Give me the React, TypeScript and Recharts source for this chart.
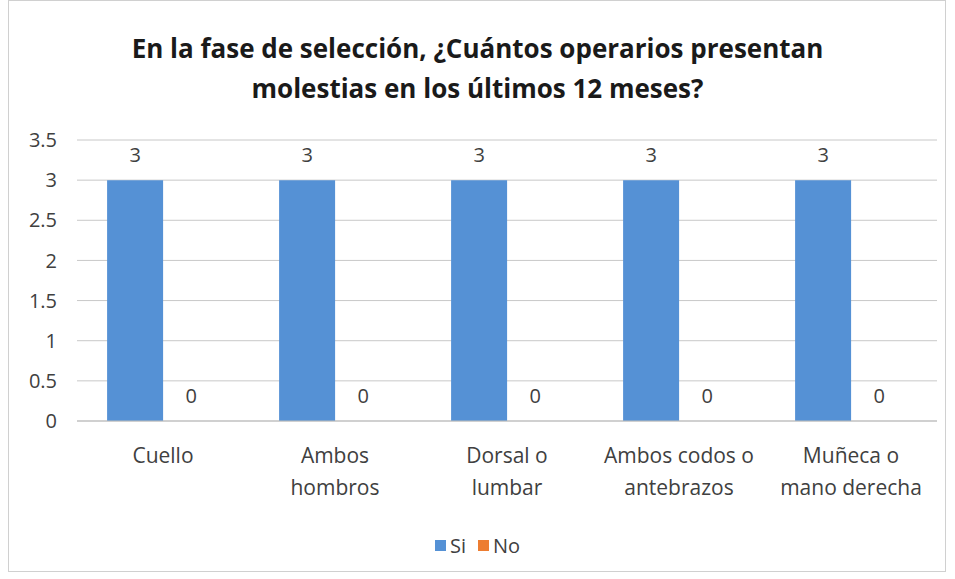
import { Bar, BarChart, CartesianGrid, LabelList, XAxis, YAxis } from 'recharts';

const categories = ['Cuello', 'Ambos\nhombros', 'Dorsal o\nlumbar', 'Ambos codos o\nantebrazos', 'Muñeca o\nmano derecha'];
const siValues = [3, 3, 3, 3, 3];
const noValues = [0, 0, 0, 0, 0];
const yTicks = [0, 0.5, 1, 1.5, 2, 2.5, 3, 3.5];

const data = categories.map((name, i) => ({ name, Si: siValues[i], No: noValues[i] }));

const FONT = '"Open Sans", sans-serif';
const TEXT = '#404040';
const BLUE = '#5591D5';
const ORANGE = '#ED7D31';

function CategoryTick(props: any) {
    const { x, y, payload } = props;
    const lines = String(payload.value).split('\n');
    return (
        <text x={x} y={y} textAnchor="middle" fill={TEXT} fontSize={21} fontFamily={FONT}>
            {lines.map((l: string, i: number) => (
                <tspan key={i} x={x} dy={i === 0 ? 34 : 32}>
                    {l}
                </tspan>
            ))}
        </text>
    );
}

// the zero-height "No" bars are not drawn, so their labels are placed beside the "Si" bar
function BothLabels(props: any) {
    const { x, y, width, height, index, value } = props;
    const base = y + height;
    return (
        <g>
            <text x={x + width / 2} y={y - 18} textAnchor="middle" fill={TEXT} fontSize={20} fontFamily={FONT}>
                {value}
            </text>
            <text x={x + width * 1.5} y={base - 18} textAnchor="middle" fill={TEXT} fontSize={20} fontFamily={FONT}>
                {noValues[index]}
            </text>
        </g>
    );
}

export default function App() {
    return (
        <div style={{ position: 'absolute', left: 0, top: 0, width: 955, height: 579, background: '#fff' }}>
            <div
                style={{
                    position: 'absolute',
                    left: 8,
                    top: 0,
                    width: 936,
                    height: 570,
                    border: '1px solid #d0d0d0',
                }}
            />
            <div
                style={{
                    position: 'absolute',
                    left: 0,
                    top: 28,
                    width: 955,
                    textAlign: 'center',
                    fontFamily: FONT,
                    fontWeight: 'bold',
                    fontSize: 26,
                    lineHeight: '40px',
                    color: '#1a1a1a',
                }}
            >
                En la fase de selección, ¿Cuántos operarios presentan
                <br />
                molestias en los últimos 12 meses?
            </div>
            <div style={{ position: 'absolute', left: 0, top: 0 }}>
                <BarChart
                    width={955}
                    height={579}
                    data={data}
                    margin={{ top: 140, right: 18, bottom: 128, left: 10 }}
                    barCategoryGap="17.5%"
                    barGap={0}
                >
                    <CartesianGrid vertical={false} stroke="#c8c8c8" />
                    <XAxis
                        dataKey="name"
                        height={30}
                        tick={<CategoryTick />}
                        tickLine={false}
                        axisLine={{ stroke: '#bdbdbd' }}
                        interval={0}
                    />
                    <YAxis
                        width={67}
                        domain={[0, 3.5]}
                        ticks={yTicks}
                        tickLine={false}
                        axisLine={false}
                        tick={{ fill: TEXT, fontSize: 20, fontFamily: FONT, dx: -12 }}
                    />
                    <Bar dataKey="Si" fill={BLUE} isAnimationActive={false}>
                        <LabelList dataKey="Si" content={<BothLabels />} />
                    </Bar>
                    <Bar dataKey="No" fill={ORANGE} isAnimationActive={false} />
                </BarChart>
            </div>
            <div
                style={{
                    position: 'absolute',
                    left: 0,
                    top: 532,
                    width: 955,
                    display: 'flex',
                    justifyContent: 'center',
                    alignItems: 'center',
                    gap: 12,
                    fontFamily: FONT,
                    fontSize: 20,
                    color: TEXT,
                }}
            >
                <span style={{ display: 'flex', alignItems: 'center', gap: 4 }}>
                    <span style={{ width: 11, height: 11, background: BLUE, display: 'inline-block' }} />
                    Si
                </span>
                <span style={{ display: 'flex', alignItems: 'center', gap: 4 }}>
                    <span style={{ width: 11, height: 11, background: ORANGE, display: 'inline-block' }} />
                    No
                </span>
            </div>
        </div>
    );
}
